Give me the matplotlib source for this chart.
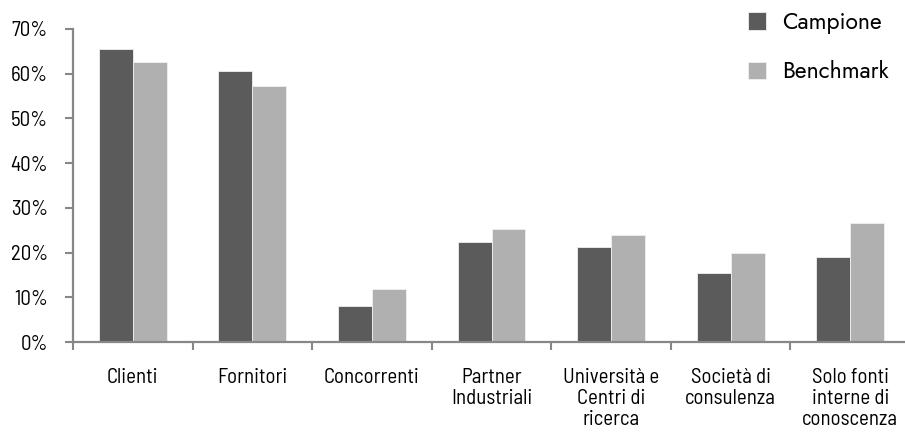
import matplotlib
matplotlib.use("Agg")
import matplotlib.pyplot as plt
import numpy as np
from matplotlib.ticker import MultipleLocator, FuncFormatter

categories = ["Clienti", "Fornitori", "Concorrenti", "Partner\nIndustriali",
              "Università e\nCentri di\nricerca", "Società di\nconsulenza",
              "Solo fonti\ninterne di\nconoscenza"]
campione = [65.5, 60.7, 8.0, 22.4, 21.2, 15.4, 18.9]
benchmark = [62.6, 57.3, 11.9, 25.2, 23.9, 19.8, 26.6]
series_names = ["Campione", "Benchmark"]

dark = "#5b5b5b"
light = "#b0b0b0"
axis_grey = "#878787"
narrow = ["Barlow Semi Condensed", "DejaVu Sans"]
geometric = ["Jost", "DejaVu Sans"]

fig = plt.figure(figsize=(9.05, 4.32), dpi=100)
ax = fig.add_axes([73 / 905, 90 / 432, 837 / 905, 313 / 432])

x = np.arange(len(categories))
w = 0.284
b1 = ax.bar(x - w / 2, campione, width=w, color=dark, edgecolor="#f0f0f0",
            linewidth=0.6, label=series_names[0], zorder=2)
b2 = ax.bar(x + w / 2, benchmark, width=w, color=light, edgecolor="#f0f0f0",
            linewidth=0.6, label=series_names[1], zorder=2)

ax.set_xlim(-0.5, len(categories) - 0.5)
ax.set_ylim(0, 70)
ax.yaxis.set_major_locator(MultipleLocator(10))
ax.yaxis.set_major_formatter(FuncFormatter(lambda v, p: f"{v:.0f}%"))

ax.set_xticks(np.arange(len(categories) + 1) - 0.5)
ax.set_xticklabels([])
ax.set_xticks(x, minor=True)
ax.set_xticklabels(categories, minor=True, family=narrow, fontsize=15,
                   linespacing=1.12, va="top", ha="center")
ax.tick_params(axis="x", which="minor", length=0, pad=19)
ax.tick_params(axis="x", which="major", length=6, width=1.5, color=axis_grey)
ax.tick_params(axis="y", length=6, width=1.5, color=axis_grey, pad=12)
for lab in ax.get_yticklabels():
    lab.set_family(narrow)
    lab.set_fontsize(15)

for s in ["top", "right"]:
    ax.spines[s].set_visible(False)
for s in ["left", "bottom"]:
    ax.spines[s].set_color(axis_grey)
    ax.spines[s].set_linewidth(1.6)

leg = fig.legend(handles=[b1, b2], labels=series_names, loc="upper left",
                 bbox_to_anchor=(748 / 905, 1 - 11 / 432), frameon=False,
                 prop={"family": geometric, "size": 16.5},
                 handlelength=0.8, handleheight=0.8, handletextpad=0.7,
                 labelspacing=1.15, borderaxespad=0, borderpad=0)

fig.savefig("out.png", dpi=100)
